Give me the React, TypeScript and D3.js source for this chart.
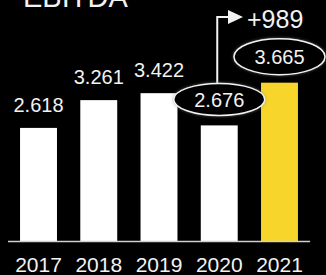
import React from "react";
import * as d3 from "d3";

const years = ["2017", "2018", "2019", "2020", "2021"];
const ebitda = [2.618, 3.261, 3.422, 2.676, 3.665];
const valueLabels = ["2.618", "3.261", "3.422", "2.676", "3.665"];
const circled = ["2020", "2021"];
const highlightYear = "2021";
const deltaLabel = "+989";
const title = "EBITDA";

const W = 326;
const H = 275;
const FONT = "'Liberation Sans', Arial, sans-serif";
const TEXT = "#f2f2f2";
const YELLOW = "#f8d52a";

export default function App() {
  const x = d3.scaleBand().domain(years).range([8, 310]).paddingInner(0.387).paddingOuter(0.2);
  const y = d3.scaleLinear().domain([0, 4]).range([241, 68.2]);
  const bw = x.bandwidth();
  const cx = (yr: string) => (x(yr) as number) + bw / 2;

  // ellipse positions for the circled labels
  const ell = (i: number) => {
    const yr = years[i];
    return { cx: cx(yr), cy: y(ebitda[i]) - 26, rx: 45.5, ry: yr === highlightYear ? 18 : 16 };
  };
  const e2020 = ell(years.indexOf("2020"));
  const arrowX = e2020.cx - 2;
  const arrowTop = 17;

  return (
    <svg
      width={W}
      height={H}
      style={{ position: "absolute", left: 0, top: 0, background: "#000" }}
      fontFamily={FONT}
    >
      <defs>
        <filter id="glow" x="-20%" y="-40%" width="140%" height="180%">
          <feDropShadow dx="0" dy="0" stdDeviation="1.5" floodColor="#888" floodOpacity="0.7" />
        </filter>
      </defs>
      <rect width={W} height={H} fill="#000" />
      <text x={23} y={7} fill={TEXT} fontSize={29}>
        {title}
      </text>

      {years.map((yr, i) => (
        <rect
          key={yr}
          x={x(yr)}
          y={y(ebitda[i])}
          width={bw}
          height={y(0) - y(ebitda[i])}
          fill={yr === highlightYear ? YELLOW : "#ffffff"}
        />
      ))}

      <line x1={8} x2={310} y1={y(0) + 0.5} y2={y(0) + 0.5} stroke="#d0d0d0" strokeWidth={1.5} />

      {/* arrow from 2020 to delta */}
      <path
        d={`M${arrowX},${e2020.cy - e2020.ry} V${arrowTop} H${230}`}
        fill="none"
        stroke="#f2f2f2"
        strokeWidth={2}
      />
      <path d={`M228,${arrowTop - 7} L243,${arrowTop} L228,${arrowTop + 7} Z`} fill="#f2f2f2" />
      <text x={247} y={28} fill={TEXT} fontSize={25}>
        {deltaLabel}
      </text>

      {years.map((yr, i) => {
        if (circled.includes(yr)) {
          const e = ell(i);
          return (
            <g key={yr}>
              <ellipse
                cx={e.cx}
                cy={e.cy}
                rx={e.rx}
                ry={e.ry}
                fill="#000"
                stroke="#f2f2f2"
                strokeWidth={1.5}
                filter="url(#glow)"
              />
              <text x={e.cx} y={e.cy + 7.5} fill={TEXT} fontSize={20} textAnchor="middle">
                {valueLabels[i]}
              </text>
            </g>
          );
        }
        return (
          <text key={yr} x={cx(yr)} y={y(ebitda[i]) - 16} fill={TEXT} fontSize={20} textAnchor="middle">
            {valueLabels[i]}
          </text>
        );
      })}

      {years.map((yr) => (
        <text key={yr} x={cx(yr)} y={272} fill={TEXT} fontSize={21} textAnchor="middle">
          {yr}
        </text>
      ))}
    </svg>
  );
}
